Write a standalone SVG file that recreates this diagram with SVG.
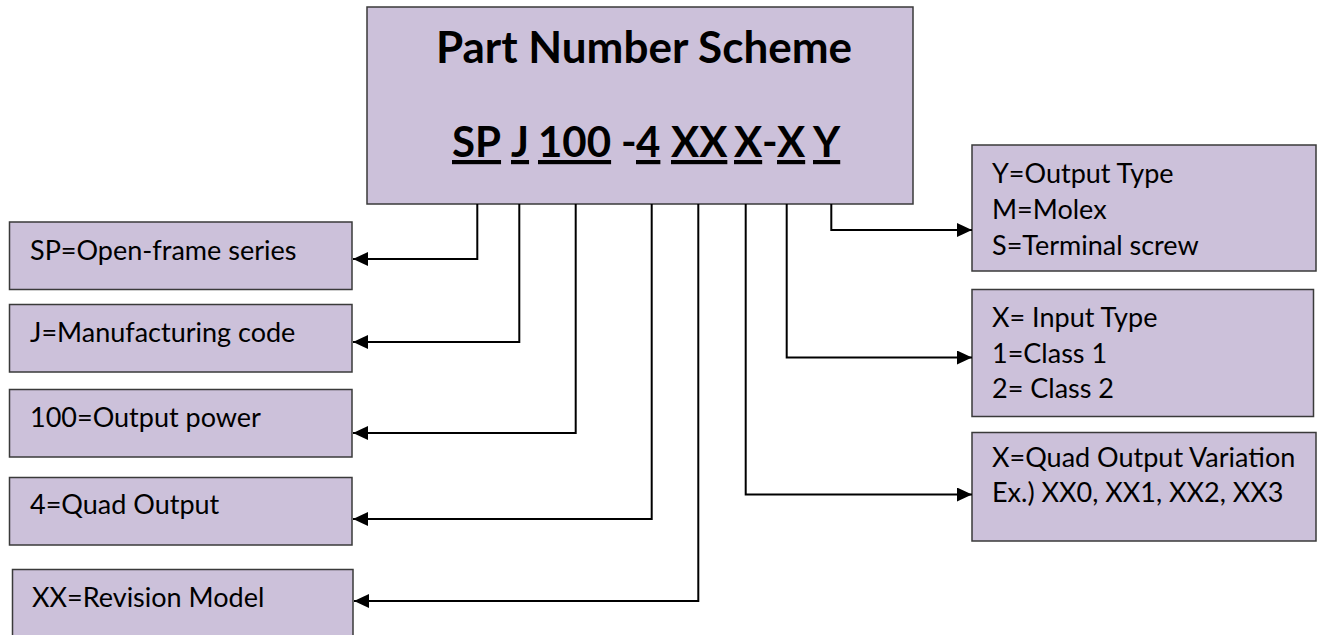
<svg xmlns="http://www.w3.org/2000/svg" width="1322" height="635" viewBox="0 0 1322 635">
<defs>
<style>
.box{fill:#CCC1DA;stroke:#3a3a3a;stroke-width:1.5}
.lbl{font-family:Lato,"Liberation Sans",sans-serif;font-size:27px;fill:#000}
.ttl{font-family:Lato,"Liberation Sans",sans-serif;font-size:44px;font-weight:bold;fill:#000}
.code{font-family:Lato,"Liberation Sans",sans-serif;font-size:42px;font-weight:bold;fill:#000}
.u{text-decoration:underline}
.con{fill:none;stroke:#000;stroke-width:2}
</style>
<marker id="arr" markerUnits="userSpaceOnUse" markerWidth="16" markerHeight="16" refX="15" refY="7" orient="auto">
<path d="M0,0 L15,7 L0,14 z" fill="#000"/>
</marker>
</defs>
<rect width="1322" height="635" fill="#fff"/>
<g id="main">
<rect class="box" x="367" y="7" width="546" height="197"/>
<text class="ttl" x="644" y="63" text-anchor="middle">Part Number Scheme</text>
<text class="code" y="157"><tspan x="452" class="u">SP</tspan><tspan x="511" class="u">J</tspan><tspan x="538" class="u">100</tspan><tspan x="621">-</tspan><tspan x="636" class="u">4</tspan><tspan x="671" class="u">XX</tspan><tspan x="734" class="u">X</tspan><tspan x="762">-</tspan><tspan x="777" class="u">X</tspan><tspan x="813" class="u">Y</tspan></text>
</g>
<g id="sp">
<rect class="box" x="9.5" y="222" width="342.5" height="67.5"/>
<text class="lbl" x="30" y="260">SP=Open-frame series</text>
</g>
<g id="j">
<rect class="box" x="9.5" y="304.5" width="342.5" height="67.5"/>
<text class="lbl" x="30" y="342">J=Manufacturing code</text>
</g>
<g id="power">
<rect class="box" x="9.5" y="389.5" width="342.5" height="67.5"/>
<text class="lbl" x="30" y="427">100=Output power</text>
</g>
<g id="quad">
<rect class="box" x="9.5" y="477.5" width="342.5" height="67.5"/>
<text class="lbl" x="30" y="514">4=Quad Output</text>
</g>
<g id="rev">
<rect class="box" x="12.5" y="569.5" width="340.5" height="80"/>
<text class="lbl" x="32" y="607">XX=Revision Model</text>
</g>
<g id="output-type">
<rect class="box" x="972" y="145" width="344" height="126"/>
<text class="lbl" x="992" y="183">Y=Output Type</text>
<text class="lbl" x="992" y="219">M=Molex</text>
<text class="lbl" x="992" y="255">S=Terminal screw</text>
</g>
<g id="input-type">
<rect class="box" x="972" y="289.5" width="341.5" height="127"/>
<text class="lbl" x="992" y="327">X= Input Type</text>
<text class="lbl" x="992" y="363">1=Class 1</text>
<text class="lbl" x="992" y="398">2= Class 2</text>
</g>
<g id="quad-variation">
<rect class="box" x="972" y="432.5" width="344" height="108.5"/>
<text class="lbl" x="992" y="467">X=Quad Output Variation</text>
<text class="lbl" x="992" y="502">Ex.) XX0, XX1, XX2, XX3</text>
</g>
<g id="connectors">
<path class="con" d="M477.3,204 V259 H353" marker-end="url(#arr)"/>
<path class="con" d="M519.3,204 V342 H353" marker-end="url(#arr)"/>
<path class="con" d="M575.7,204 V433 H353" marker-end="url(#arr)"/>
<path class="con" d="M651.7,204 V519 H353" marker-end="url(#arr)"/>
<path class="con" d="M698.3,204 V601 H354" marker-end="url(#arr)"/>
<path class="con" d="M745.7,204 V494.5 H972" marker-end="url(#arr)"/>
<path class="con" d="M786.7,204 V357.5 H972" marker-end="url(#arr)"/>
<path class="con" d="M831.3,204 V230 H972" marker-end="url(#arr)"/>
</g>
</svg>
